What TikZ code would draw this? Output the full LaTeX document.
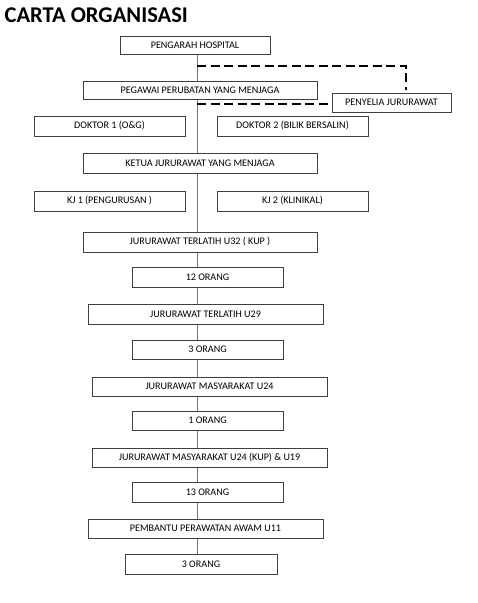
\documentclass[tikz,border=0pt]{standalone}
\usepackage{fontspec}
\setmainfont{Carlito}
\begin{document}
\begin{tikzpicture}[x=1pt,y=-1pt,
  bx/.style={draw=black!75,line width=0.9pt,fill=white,inner sep=0pt,font=\fontsize{10.1}{12}\selectfont},
  vline/.style={draw=black!55,line width=1pt},
  dline/.style={draw=black,line width=1.6pt,dash pattern=on 9pt off 4.5pt}]
\useasboundingbox (0,0) rectangle (478,603);
\node[anchor=west,inner sep=0pt,font=\fontsize{22.5}{25}\selectfont\bfseries] (title) at (4.5,15) {CARTA ORGANISASI};
\newcommand\mybox[6]{\node[bx,minimum width=#4-#2,minimum height=#5-#3] (#1) at ({(#2+#4)/2},{(#3+#5)/2}) {#6};}
\coordinate (top) at (197,54);
\coordinate (bot) at (197,554);
\draw[vline] (top) -- (bot);
\coordinate (d1) at (197,66);
\coordinate (d2) at (406,66);
\coordinate (d3) at (406,90);
\coordinate (d4) at (197,104);
\draw[dline] (d1) -- (d2) -- (d3);
\mybox{ph}{120}{36}{270}{54}{PENGARAH HOSPITAL}
\mybox{ppm}{83}{81}{317}{99}{PEGAWAI PERUBATAN YANG MENJAGA}
\mybox{pj}{332}{93}{451}{112}{PENYELIA JURURAWAT}
\draw[dline] (d4) -- (d4 -| pj.west);
\mybox{dk1}{34}{116}{185}{136}{DOKTOR 1 (O\&G)}
\mybox{dk2}{217}{116}{368}{136}{DOKTOR 2 (BILIK BERSALIN)}
\mybox{kj}{83}{153}{317}{173}{KETUA JURURAWAT YANG MENJAGA}
\mybox{kj1}{34}{191}{185}{211}{KJ 1 (PENGURUSAN )}
\mybox{kj2}{217}{191}{368}{211}{KJ 2 (KLINIKAL)}
\mybox{jt32}{83}{232}{317}{252}{JURURAWAT TERLATIH U32 ( KUP )}
\mybox{o12}{132}{267}{283}{287}{12 ORANG}
\mybox{jt29}{88}{304}{323}{324}{JURURAWAT TERLATIH U29}
\mybox{o3a}{132}{340}{283}{359}{3 ORANG}
\mybox{jm24}{92}{377}{327}{396}{JURURAWAT MASYARAKAT U24}
\mybox{o1}{132}{411}{283}{430}{1 ORANG}
\mybox{jmk}{92}{448}{327}{467}{JURURAWAT MASYARAKAT U24 (KUP) \& U19}
\mybox{o13}{132}{482}{283}{502}{13 ORANG}
\mybox{pp}{88}{519}{323}{538}{PEMBANTU PERAWATAN AWAM U11}
\mybox{o3b}{125}{554}{277}{574}{3 ORANG}
\end{tikzpicture}
\end{document}
